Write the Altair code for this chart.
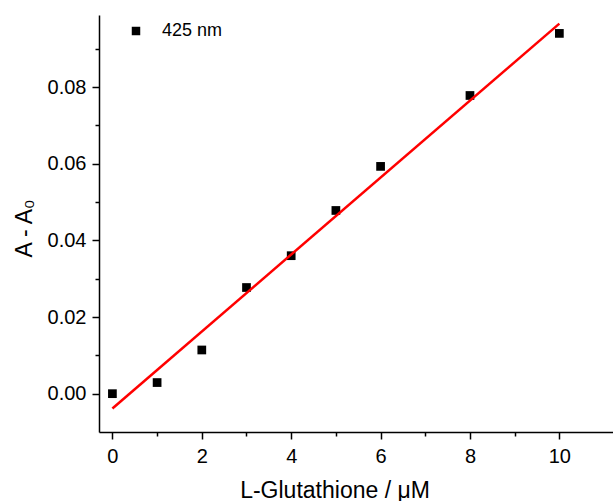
import altair as alt
import pandas as pd

# L-Glutathione concentration (µM) and absorbance change at 425 nm
conc = [0, 1, 2, 3, 4, 5, 6, 8, 10]
delta_abs = [0.0, 0.0029, 0.0114, 0.0277, 0.0360, 0.0478, 0.0593, 0.0778, 0.0940]
series = ["425 nm"] * len(conc)

x_major = [0, 2, 4, 6, 8, 10]
x_minor = [1, 3, 5, 7, 9]
y_major = [0.0, 0.02, 0.04, 0.06, 0.08]
y_minor = [0.01, 0.03, 0.05, 0.07, 0.09]

df = pd.DataFrame({"x": conc, "y": delta_abs, "series": series})

FONT = "Liberation Sans"
xscale = alt.Scale(domain=[-0.3, 11.2], nice=False, zero=False)
yscale = alt.Scale(domain=[-0.01, 0.0988], nice=False, zero=False)

common = dict(
    grid=False,
    domainColor="black",
    domainWidth=1.5,
    tickColor="black",
    tickWidth=1.5,
    labelFont=FONT,
    labelFontSize=20,
    labelColor="black",
    titleFont=FONT,
    titleFontSize=23,
    titleFontWeight="normal",
    titleColor="black",
)

x_axis_major = alt.Axis(
    orient="bottom", values=x_major, tickSize=7, labelPadding=7, format="d",
    title="L-Glutathione / μM", titleX=235.5, titleY=65,
    titleBaseline="alphabetic", titleAlign="center", **common,
)
y_axis_major = alt.Axis(
    orient="left", values=y_major, tickSize=7, labelPadding=6, format=".2f",
    title="A - A₀", titleX=-68, titleY=213, titleAngle=270,
    titleBaseline="alphabetic", titleAlign="center", **common,
)
x_axis_minor = alt.Axis(
    orient="bottom", values=x_minor, tickSize=4, labels=False, domain=False,
    grid=False, tickColor="black", tickWidth=1.5,
)
y_axis_minor = alt.Axis(
    orient="left", values=y_minor, tickSize=4, labels=False, domain=False,
    grid=False, tickColor="black", tickWidth=1.5,
)

points = alt.Chart(df).mark_point(filled=True, size=76, opacity=1, color="black").encode(
    x=alt.X("x:Q", scale=xscale, axis=x_axis_minor, title=None),
    y=alt.Y("y:Q", scale=yscale, axis=y_axis_minor, title=None),
    shape=alt.Shape(
        "series:N",
        scale=alt.Scale(range=["square"]),
        legend=alt.Legend(
            title=None, orient="none", legendX=28, legendY=7, padding=0,
            symbolSize=72, symbolFillColor="black", symbolStrokeColor="black",
            symbolStrokeWidth=0, labelFont=FONT, labelFontSize=18,
            labelColor="black", labelOffset=17,
        ),
    ),
)

fit = alt.Chart(df).transform_regression("x", "y", method="linear").mark_line(
    color="#ff0000", strokeWidth=2.5
).encode(
    x=alt.X("x:Q", scale=xscale, axis=x_axis_major),
    y=alt.Y("y:Q", scale=yscale, axis=y_axis_major),
)

chart = (
    alt.layer(points, fit)
    .resolve_axis(x="independent", y="independent")
    .properties(
        width=514,
        height=417,
        padding={"left": 99, "top": 15, "right": 0, "bottom": 69},
        autosize=alt.AutoSizeParams(type="none"),
        background="white",
    )
    .configure_view(strokeWidth=0)
)

chart.save("out.html", embed_options={"renderer": "svg", "actions": False})
